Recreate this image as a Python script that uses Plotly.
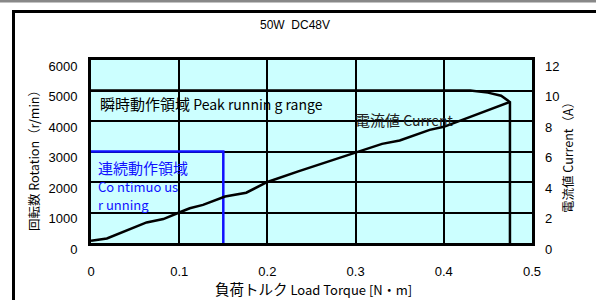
import plotly.graph_objects as go

# ---- data ----
torque = [0.0, 0.018, 0.063, 0.082, 0.1, 0.112, 0.127, 0.152, 0.176, 0.2, 0.235,
          0.25, 0.285, 0.3, 0.33, 0.35, 0.384, 0.4, 0.426, 0.46, 0.475]
current = [0.15, 0.3, 1.35, 1.57, 2.0, 2.28, 2.5, 3.05, 3.3, 4.0, 4.7,
           4.98, 5.62, 5.95, 6.5, 6.72, 7.42, 7.62, 8.2, 8.92, 9.25]

peak_x = [0.0, 0.43, 0.45, 0.465, 0.475, 0.475]
peak_rpm = [5000, 5000, 4930, 4830, 4620, 0]

cont_x = [0.0, 0.15, 0.15]
cont_rpm = [3000, 3000, 0]

x_ticks = [0, 0.1, 0.2, 0.3, 0.4, 0.5]
x_ticklabels = ["0", "0.1", "0.2", "0.3", "0.4", "0.5"]
y_ticks = [0, 1000, 2000, 3000, 4000, 5000, 6000]
y2_ticks = [0, 2, 4, 6, 8, 10, 12]

FONT = "Liberation Sans, Arial, Noto Sans CJK JP, sans-serif"
CJK = "Noto Sans CJK JP, Liberation Sans, sans-serif"

fig = go.Figure()

fig.add_trace(go.Scatter(x=peak_x, y=peak_rpm, mode="lines",
                         line=dict(color="black", width=2.5), showlegend=False,
                         hoverinfo="skip"))
fig.add_trace(go.Scatter(x=cont_x, y=cont_rpm, mode="lines",
                         line=dict(color="#1010ff", width=2.5), showlegend=False,
                         hoverinfo="skip"))
fig.add_trace(go.Scatter(x=torque, y=current, mode="lines", yaxis="y2",
                         line=dict(color="black", width=2.5), showlegend=False,
                         name="電流値 Current"))

W, H = 596, 300
L, R, T, B = 91, 532, 60, 243
pw, ph = R - L, B - T


def px(xp):
    return (xp - L) / pw


def py(yp):
    return (B - yp) / ph


def big(s, size=15):
    return f"<span style='font-size:{size}px'>{s}</span>"


def ann(text, x, y, size=12, family=CJK, color="black", angle=0):
    return dict(text=text, x=px(x), y=py(y), xref="paper", yref="paper",
                xanchor="center", yanchor="middle", textangle=angle,
                showarrow=False, font=dict(size=size, family=family, color=color))


def inplot(text, x, y, size=13, color="black"):
    return dict(text=text, x=x, y=y, xref="x", yref="y", xanchor="left",
                yanchor="middle", showarrow=False,
                font=dict(size=size, family=CJK, color=color))


annotations = [
    ann("50W\u00a0\u00a0DC48V", 295, 25, family=FONT),
    ann("回転数 Rotation（r/min）", 33, 158, size=12.5, angle=-90),
    ann("電流値 Current（A）", 567, 155, size=12.5, angle=-90),
    ann(big("負荷トルク", 14.5) + " Load Torque [N・m]", 313, 288, size=13),
    inplot(big("瞬時動作領域") + " Peak runnin g range", 0.008, 4560, size=14),
    inplot(big("電流値") + " Current", 0.297, 4060, size=14, color="#222"),
    inplot(big("連続動作領域", 15), 0.006, 2490, color="#1010ff"),
    inplot("Co ntimuo us", 0.006, 1850, color="#1010ff"),
    inplot("r unning", 0.006, 1250, color="#1010ff"),
]

shapes = [
    # top gray band
    dict(type="rect", xref="paper", yref="paper", x0=px(0), x1=px(596),
         y0=py(2.5), y1=py(0), line=dict(width=0), fillcolor="#888", layer="above"),
    # outer frame: left edge and top edge
    dict(type="rect", xref="paper", yref="paper", x0=px(12), x1=px(15),
         y0=py(300), y1=py(10), line=dict(width=0), fillcolor="black", layer="above"),
    dict(type="rect", xref="paper", yref="paper", x0=px(12), x1=px(596),
         y0=py(13), y1=py(10), line=dict(width=0), fillcolor="black", layer="above"),
]

fig.update_layout(
    width=W, height=H,
    margin=dict(l=L, r=W - R, t=T, b=H - B, pad=0),
    paper_bgcolor="white",
    plot_bgcolor="#ccffff",
    font=dict(family=FONT, size=13, color="black"),
    xaxis=dict(range=[0, 0.5], tickvals=x_ticks, ticktext=x_ticklabels,
               showgrid=True, gridcolor="black", gridwidth=2,
               showline=True, linecolor="black", linewidth=3, mirror=True,
               zeroline=False, ticks="", ticklabelstandoff=14,
               tickfont=dict(size=13, family=FONT)),
    yaxis=dict(range=[0, 6000], tickvals=y_ticks,
               showgrid=True, gridcolor="black", gridwidth=2,
               showline=True, linecolor="black", linewidth=3, mirror=True,
               zeroline=False, ticks="", ticklabelstandoff=8, ticklabelshift=6,
               tickfont=dict(size=13, family=FONT)),
    yaxis2=dict(range=[0, 12], tickvals=y2_ticks, overlaying="y", side="right",
                showgrid=False, zeroline=False, showline=False, ticks="",
                ticklabelstandoff=12, ticklabelshift=6,
                tickfont=dict(size=13, family=FONT)),
    annotations=annotations,
    shapes=shapes,
)

fig.write_html("out.html", config={"displayModeBar": False},
               post_script="document.body.style.margin='0';")
